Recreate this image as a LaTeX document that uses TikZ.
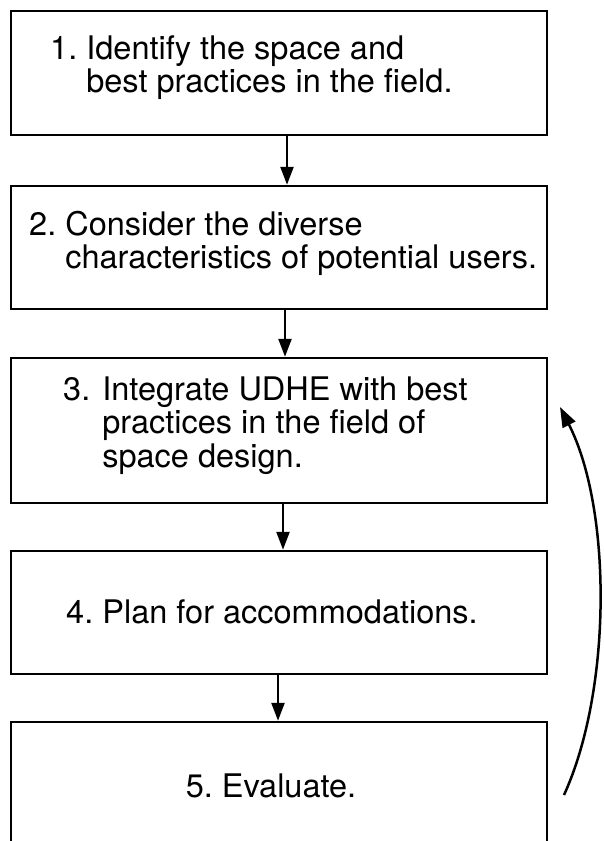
\documentclass[tikz,border=0pt]{standalone}
\usepackage{fontspec}
\setmainfont{TeX Gyre Heros}
\usetikzlibrary{arrows.meta}
\frenchspacing
\tikzset{
  boxnode/.style={draw=black, line width=2.5pt, rectangle, minimum width=536pt, inner sep=0pt, fill=white},
  txt/.style={inner sep=0pt, font=\fontsize{32.5}{33.3}\selectfont, anchor=base west},
  ctxt/.style={inner sep=0pt, font=\fontsize{32.5}{33.3}\selectfont, anchor=base},
  arr/.style={line width=2.5pt, -{Triangle[length=18pt,width=13pt]}},
  loop/.style={line width=2.5pt, -{Triangle[length=20pt,width=14pt]}}
}
\begin{document}
\begin{tikzpicture}[x=1pt,y=-1pt]
\useasboundingbox (0,0) rectangle (603,841);
\fill[white] (0,0) rectangle (603,841);
\clip (0,0) rectangle (603,841);
\node[boxnode, minimum height=124pt] (b1) at (279,73) {};
\node[boxnode, minimum height=123pt] (b2) at (279,247.5) {};
\node[boxnode, minimum height=145pt] (b3) at (279,430.5) {};
\node[boxnode, minimum height=123pt] (b4) at (279,612.5) {};
\node[boxnode, minimum height=124pt] (b5) at (279,784) {};
\node[txt] (t1) at (50,59) {\begin{tabular}[t]{@{}l@{\ }l@{}}1. & Identify the space and\\ & best practices in the field.\end{tabular}};
\node[txt] (t2) at (29,235) {\begin{tabular}[t]{@{}l@{\ }l@{}}2. & Consider the diverse\\ & characteristics of potential users.\end{tabular}};
\node[txt] (t3) at (63,400) {\begin{tabular}[t]{@{}l@{\ \hspace{3pt}}l@{}}3. & Integrate UDHE with best\\ & practices in the field of\\ & space design.\end{tabular}};
\node[ctxt] (t4) at (272,623) {4. Plan for accommodations.};
\node[ctxt] (t5) at (271,797) {5. Evaluate.};
\draw[arr] ([xshift=8pt]b1.south) -- ([xshift=8pt]b2.north);
\draw[arr] ([xshift=6pt]b2.south) -- ([xshift=6pt]b3.north);
\draw[arr] ([xshift=4pt]b3.south) -- ([xshift=4pt]b4.north);
\draw[arr] ([xshift=-1pt]b4.south) -- ([xshift=-1pt]b5.north);
\coordinate (cs) at (564,795);
\coordinate (ce) at (560,407);
\draw[loop] (cs) .. controls (612,690) and (612,509) .. (ce);
\end{tikzpicture}
\end{document}
